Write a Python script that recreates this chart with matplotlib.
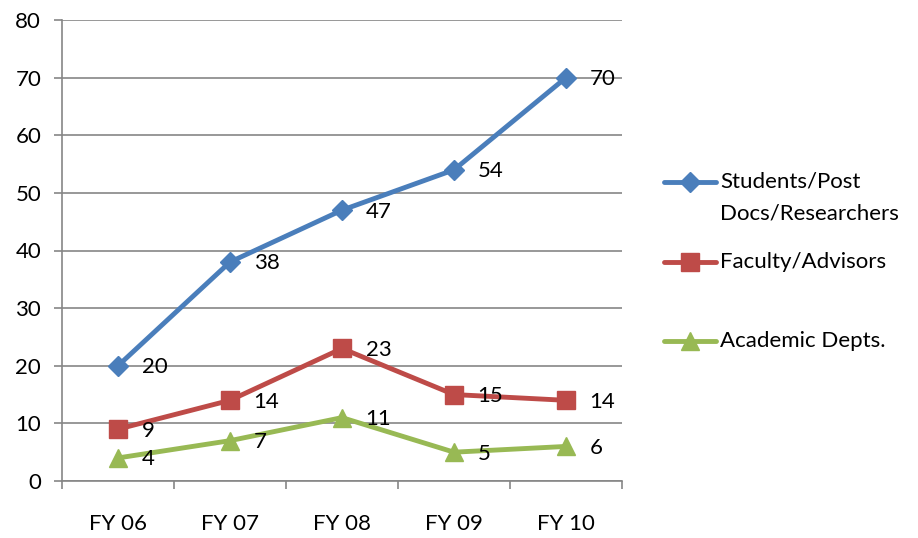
import matplotlib
matplotlib.use("Agg")
import matplotlib.pyplot as plt
from matplotlib.lines import Line2D

categories = ["FY 06", "FY 07", "FY 08", "FY 09", "FY 10"]
students = [20, 38, 47, 54, 70]
faculty = [9, 14, 23, 15, 14]
depts = [4, 7, 11, 5, 6]
series_names = ["Students/Post\nDocs/Researchers", "Faculty/Advisors", "Academic Depts."]
yticks = [0, 10, 20, 30, 40, 50, 60, 70, 80]

plt.rcParams['font.family'] = ['Lato', 'DejaVu Sans']
FS = 16

fig = plt.figure(figsize=(9.18, 5.38), dpi=100)
ax = fig.add_axes([62/918, 57/538, 560/918, 461/538])

colors = ["#4A7EBB", "#BE4B48", "#98B954"]
markers = ["D", "s", "^"]
msizes = [10, 12.5, 12.5]
x = list(range(len(categories)))
for vals, c, m, ms in zip([students, faculty, depts], colors, markers, msizes):
    ax.plot(x, vals, color=c, lw=3.5, marker=m, markersize=ms, zorder=3, solid_capstyle='round')
    for xi, v in zip(x, vals):
        ax.annotate(str(v), (xi, v), xytext=(17, -1), textcoords='offset points',
                    ha='left', va='center', fontsize=FS, color='black', zorder=4)

ax.set_xlim(-0.5, len(categories) - 0.5)
ax.set_ylim(0, 80)
ax.set_yticks(yticks)
ax.set_yticklabels([str(t) for t in yticks], fontsize=FS)
ax.set_xticks(x)
ax.set_xticklabels(categories, fontsize=FS)
ax.set_xticks([i - 0.5 for i in range(len(categories) + 1)], minor=True)
ax.tick_params(axis='x', which='major', length=0, pad=24)
ax.tick_params(axis='x', which='minor', length=6, width=1.2, color='#868686')
ax.tick_params(axis='y', length=6, width=1.2, color='#868686', pad=9)
ax.yaxis.grid(True, color='#868686', lw=1.2)
ax.set_axisbelow(True)
for s in ['top', 'right']:
    ax.spines[s].set_visible(False)
for s in ['left', 'bottom']:
    ax.spines[s].set_color('#868686')
    ax.spines[s].set_linewidth(1.2)

# legend drawn manually
leg_y = [182, 262, 341]
for name, c, m, ms, yy in zip(series_names, colors, markers, msizes, leg_y):
    yf = 1 - yy / 538
    fig.add_artist(Line2D([664/918, 716/918], [yf, yf], transform=fig.transFigure,
                          color=c, lw=3.5, solid_capstyle='round'))
    fig.add_artist(Line2D([690/918], [yf], transform=fig.transFigure, color=c,
                          marker=m, markersize=ms, lw=0))
    if '\n' in name:
        first, second = name.split('\n')
        fig.text(720/918, yf, first, fontsize=FS, va='center', ha='left')
        fig.text(720/918, 1 - 213/538, second, fontsize=FS, va='center', ha='left')
    else:
        fig.text(720/918, yf, name, fontsize=FS, va='center', ha='left')

fig.savefig("out.png", dpi=100)
